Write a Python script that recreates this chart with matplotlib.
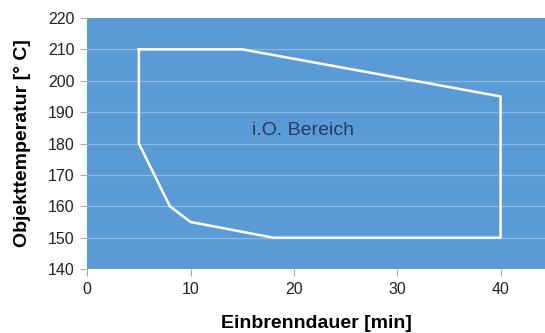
import matplotlib.pyplot as plt

# boundary of the allowed process window
dauer = [5, 15, 40, 40, 18, 10, 8, 5, 5]
temperatur = [210, 210, 195, 150, 150, 155, 160, 180, 210]
x_ticks = [0, 10, 20, 30, 40]
y_ticks = [140, 150, 160, 170, 180, 190, 200, 210, 220]

plt.rcParams['font.family'] = ['Liberation Sans', 'DejaVu Sans']

fig = plt.figure(figsize=(5.45, 3.33), dpi=100)
ax = fig.add_axes([0.160, 0.192, 0.840, 0.754])
ax.set_facecolor('#5b9bd5')

for y in y_ticks[1:-1]:
    ax.axhline(y, color='#8cb9e3', lw=0.9, zorder=1)

ax.plot(dauer, temperatur, color='white', lw=1.8, zorder=3)
ax.text(20.9, 184.3, 'i.O. Bereich', ha='center', va='center',
        fontsize=14, color='#263c63')

ax.set_xlim(0, 44.3)
ax.set_ylim(140, 220)
ax.set_xticks(x_ticks)
ax.set_yticks(y_ticks)
ax.tick_params(labelsize=11.5, colors='#222222', length=5, color='#aaaaaa', pad=4)
for s in ax.spines.values():
    s.set_visible(False)

ax.set_xlabel('Einbrenndauer [min]', fontsize=14, fontweight='bold', labelpad=13)
ax.set_ylabel('Objekttemperatur [° C]', fontsize=14, fontweight='bold', labelpad=12)

fig.savefig('out.png', dpi=100)
